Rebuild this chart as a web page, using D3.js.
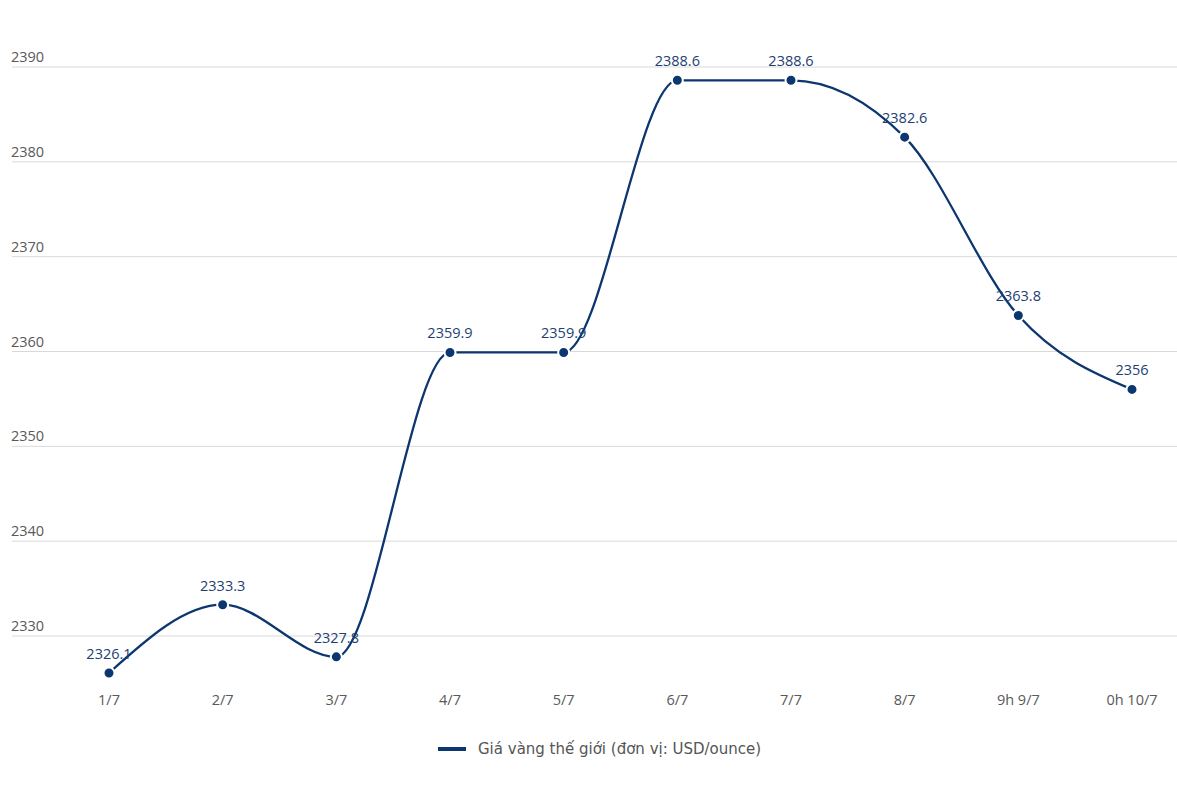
<!DOCTYPE html>
<html><head><meta charset="utf-8">
<script src="https://cdn.jsdelivr.net/npm/d3@7"></script>
<style>body{margin:0;background:#fff}svg{display:block}</style>
</head><body>
<svg id="c" width="1177" height="787"></svg>
<script>
const categories = ["1/7","2/7","3/7","4/7","5/7","6/7","7/7","8/7","9h 9/7","0h 10/7"];
const values = [2326.1,2333.3,2327.8,2359.9,2359.9,2388.6,2388.6,2382.6,2363.8,2356];
const valueLabels = ["2326.1","2333.3","2327.8","2359.9","2359.9","2388.6","2388.6","2382.6","2363.8","2356"];
const yTicks = [2330,2340,2350,2360,2370,2380,2390];
const seriesName = "Giá vàng thế giới (đơn vị: USD/ounce)";

const svg = d3.select("#c");
const navy = "#0c3670";
const x = d3.scalePoint().domain(categories).range([109,1132]);
const y = d3.scaleLinear().domain([2330,2390]).range([636,67]);

// grid
const g = svg.append("g");
g.selectAll("line.grid").data(yTicks).join("line")
  .attr("x1",12).attr("x2",1177)
  .attr("y1",d=>y(d)).attr("y2",d=>y(d))
  .attr("stroke","#d9d9d9").attr("stroke-width",1);
g.selectAll("text.yl").data(yTicks).join("text")
  .attr("x",11).attr("y",d=>y(d)-5)
  .attr("font-family","Open Sans, sans-serif").attr("font-size",14.5)
  .attr("fill","#595959").text(d=>d);

// x labels
svg.append("g").selectAll("text").data(categories).join("text")
  .attr("x",d=>x(d)).attr("y",705).attr("text-anchor","middle")
  .attr("font-family","Open Sans, sans-serif").attr("font-size",14.5)
  .attr("fill","#595959").text(d=>d);

// line
const line = d3.line().x((d,i)=>x(categories[i])).y(d=>y(d)).curve(d3.curveMonotoneX);
svg.append("path").datum(values).attr("d",line)
  .attr("fill","none").attr("stroke",navy).attr("stroke-width",2.3);

// markers
svg.append("g").selectAll("circle").data(values).join("circle")
  .attr("cx",(d,i)=>x(categories[i])).attr("cy",d=>y(d)).attr("r",5.5)
  .attr("fill",navy).attr("stroke","#fff").attr("stroke-width",2);

// value labels
svg.append("g").selectAll("text").data(values).join("text")
  .attr("x",(d,i)=>x(categories[i])).attr("y",d=>y(d)-14)
  .attr("text-anchor","middle")
  .attr("font-family","Open Sans, sans-serif").attr("font-size",14.5)
  .attr("fill","#1d3f72").text((d,i)=>valueLabels[i]);

// legend
const lg = svg.append("g");
lg.append("line").attr("x1",438).attr("x2",466).attr("y1",749).attr("y2",749)
  .attr("stroke",navy).attr("stroke-width",4);
lg.append("text").attr("x",478).attr("y",754)
  .attr("font-family","DejaVu Sans, sans-serif").attr("font-size",15)
  .attr("fill","#555").text(seriesName);
</script>
</body></html>
